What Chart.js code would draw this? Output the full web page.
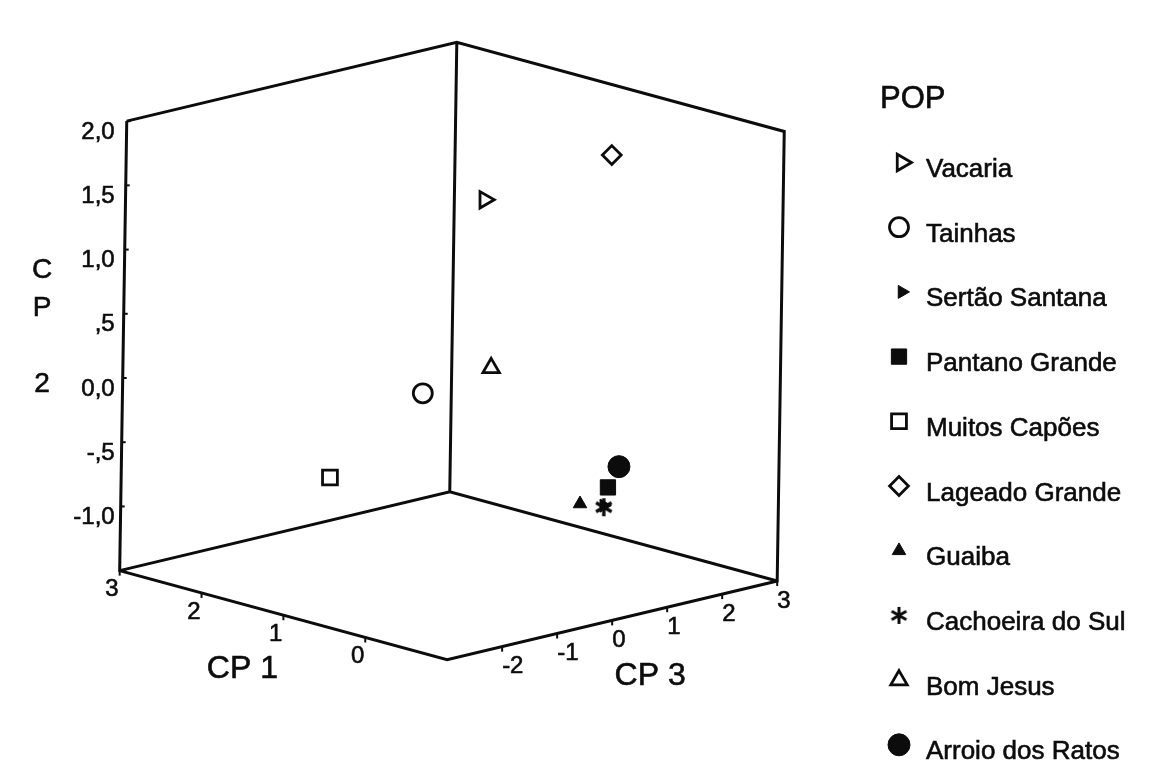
<!DOCTYPE html>
<html>
<head>
<meta charset="utf-8">
<script src="https://cdn.jsdelivr.net/npm/chart.js@4.4.1/dist/chart.umd.min.js"></script>
<style>
  html, body { margin: 0; padding: 0; background: #ffffff; }
  canvas { display: block; }
</style>
</head>
<body>
<canvas id="chart" width="1152" height="780"></canvas>
<script>
// Principal component scores of each population (CP 1, CP 2, CP 3)
const populations = ['Vacaria', 'Tainhas', 'Sertão Santana', 'Pantano Grande', 'Muitos Capões',
                     'Lageado Grande', 'Guaiba', 'Cachoeira do Sul', 'Bom Jesus', 'Arroio dos Ratos'];
const cp1Scores = [0.85, 1.90, -0.35, -0.55, 2.10, 0.40, -0.60, -0.45, 1.20, -0.30];
const cp2Scores = [1.42, -0.32, -0.80, -0.60, -0.87, 1.68, -0.66, -0.78, -0.02, -0.54];
const cp3Scores = [0.33, 0.83, 0.79, 0.56, -0.54, 1.96, -0.02, 0.64, 1.02, 1.13];

// Axis ranges of the box and their tick labels
const cp1Range = [-1, 3];
const cp2Range = [-1.5, 2];
const cp3Range = [-3, 3];
const cp1Ticks = [3, 2, 1, 0];
const cp1TickLabels = ['3', '2', '1', '0'];
const cp2Ticks = [2, 1.5, 1, 0.5, 0, -0.5, -1];
const cp2TickLabels = ['2,0', '1,5', '1,0', ',5', '0,0', '-,5', '-1,0'];
const cp3Ticks = [-2, -1, 0, 1, 2, 3];
const cp3TickLabels = ['-2', '-1', '0', '1', '2', '3'];

const legendTitle = 'POP';
const axisTitles = { cp1: 'CP 1', cp2: 'CP 2', cp3: 'CP 3' };

// Orthographic camera and the visible window of the projection plane
const VIEW = { azimuth: 45, elevation: 14.8, roll: 0.9 };
const WINDOW = { xMin: -1.944, xMax: 3.011, yMin: -1.845, yMax: 1.510 };

const INK = '#0c0c0c';
const FONT = '"Liberation Sans", Arial, Helvetica, sans-serif';

function norm(v, r) { return (v - (r[0] + r[1]) / 2) / ((r[1] - r[0]) / 2); }

// 3D score -> point on the projection plane
function project(a, b, c) {
  const nx = norm(a, cp1Range), ny = norm(b, cp2Range), nz = norm(c, cp3Range);
  const az = VIEW.azimuth * Math.PI / 180, el = VIEW.elevation * Math.PI / 180, ro = VIEW.roll * Math.PI / 180;
  const u = -Math.cos(az) * nx + Math.sin(az) * nz;
  const depth = Math.sin(az) * nx + Math.cos(az) * nz;
  const v = Math.cos(el) * ny + Math.sin(el) * depth;
  return { x: u * Math.cos(ro) + v * Math.sin(ro), y: v * Math.cos(ro) - u * Math.sin(ro) };
}

// six-armed asterisk marker
function asterisk(size, lw) {
  const cv = document.createElement('canvas');
  cv.width = size; cv.height = size;
  const g = cv.getContext('2d');
  g.strokeStyle = INK; g.lineWidth = lw;
  const r = size / 2 - 1, m = size / 2;
  for (let k = 0; k < 3; k++) {
    const ang = Math.PI / 2 + k * Math.PI / 3;
    g.beginPath();
    g.moveTo(m + r * Math.cos(ang), m + r * Math.sin(ang));
    g.lineTo(m - r * Math.cos(ang), m - r * Math.sin(ang));
    g.stroke();
  }
  return cv;
}

const markerStyles = {
  'Vacaria':          { style: 'triangle', rotation: 90, radius: 9.5,  filled: false, border: 2.8 },
  'Tainhas':          { style: 'circle',   rotation: 0,  radius: 9.5,  filled: false, border: 2.8 },
  'Sertão Santana':   { style: 'triangle', rotation: 90, radius: 7.5,  filled: true,  border: 1, order: 2 },
  'Pantano Grande':   { style: 'rect',     rotation: 0,  radius: 10.8, filled: true,  border: 1 },
  'Muitos Capões':    { style: 'rect',     rotation: 0,  radius: 10.5, filled: false, border: 2.8 },
  'Lageado Grande':   { style: 'rectRot',  rotation: 0,  radius: 9.4,  filled: false, border: 2.8 },
  'Guaiba':           { style: 'triangle', rotation: 0,  radius: 7.8,  filled: true,  border: 1 },
  'Cachoeira do Sul': { style: asterisk(20, 3.4), rotation: 0, radius: 9, filled: true, border: 1, order: 1 },
  'Bom Jesus':        { style: 'triangle', rotation: 0,  radius: 9.5,  filled: false, border: 2.8 },
  'Arroio dos Ratos': { style: 'circle',   rotation: 0,  radius: 11,   filled: true,  border: 1 }
};
const legendAsterisk = asterisk(19, 3);

// box corners and edges (three back walls with the floor)
const a0 = cp1Range[0], a1 = cp1Range[1], b0 = cp2Range[0], b1 = cp2Range[1], c0 = cp3Range[0], c1 = cp3Range[1];
const gap = { x: null, y: null };
const boxPath = [
  project(a1, b1, c0), project(a1, b0, c0), project(a0, b0, c0), project(a0, b0, c1),
  project(a0, b1, c1), project(a1, b1, c1), project(a1, b1, c0), gap,
  project(a1, b0, c0), project(a1, b0, c1), project(a0, b0, c1), gap,
  project(a1, b0, c1), project(a1, b1, c1)
];

const datasets = populations.map((name, i) => {
  const st = markerStyles[name];
  return {
    label: name,
    data: [project(cp1Scores[i], cp2Scores[i], cp3Scores[i])],
    pointStyle: st.style,
    pointRotation: st.rotation,
    pointRadius: st.radius,
    pointHoverRadius: st.radius,
    pointBorderWidth: st.border,
    pointBorderColor: INK,
    pointBackgroundColor: st.filled ? INK : '#ffffff',
    order: st.order || 0
  };
});
datasets.push({
  label: 'box',
  data: boxPath,
  showLine: true,
  spanGaps: false,
  borderColor: INK,
  borderWidth: 3,
  borderJoinStyle: 'miter',
  pointRadius: 0,
  pointHoverRadius: 0,
  order: 10
});

function drawPointShape(ctx, opts, x, y) {
  if (Chart.helpers && Chart.helpers.drawPoint) {
    Chart.helpers.drawPoint(ctx, opts, x, y);
  }
}

// filled text with a hairline outline for a slightly heavier print
function inkText(ctx, text, x, y) {
  ctx.fillText(text, x, y);
  ctx.strokeText(text, x, y);
}

// axis ticks, tick labels, axis titles and the legend
const boxDecor = {
  id: 'boxDecor',
  afterDatasetsDraw(chart) {
    const ctx = chart.ctx;
    const sx = chart.scales.x, sy = chart.scales.y;
    const px = (p) => ({ x: sx.getPixelForValue(p.x), y: sy.getPixelForValue(p.y) });
    ctx.save();
    ctx.strokeStyle = INK;
    ctx.fillStyle = INK;

    // CP 2 on the front-left vertical edge
    ctx.font = '24px ' + FONT;
    ctx.textAlign = 'right';
    ctx.textBaseline = 'middle';
    const labelX = px(project(a1, b0, c0)).x - 5;
    cp2Ticks.forEach((t, i) => {
      const p = px(project(a1, t, c0));
      ctx.lineWidth = 2;
      ctx.beginPath(); ctx.moveTo(p.x, p.y); ctx.lineTo(p.x + 4, p.y); ctx.stroke();
      ctx.lineWidth = 0.6;
      inkText(ctx, cp2TickLabels[i], labelX, p.y + 11);
    });

    // CP 1 along the front-left floor edge
    cp1Ticks.forEach((t, i) => {
      const p = px(project(t, b0, c0));
      ctx.lineWidth = 2;
      ctx.beginPath(); ctx.moveTo(p.x, p.y); ctx.lineTo(p.x, p.y + 5); ctx.stroke();
      ctx.textAlign = 'right';
      ctx.lineWidth = 0.6;
      inkText(ctx, cp1TickLabels[i], p.x - 1, p.y + 19);
    });

    // CP 3 along the front-right floor edge
    cp3Ticks.forEach((t, i) => {
      const p = px(project(a0, b0, t));
      ctx.lineWidth = 2;
      ctx.beginPath(); ctx.moveTo(p.x, p.y); ctx.lineTo(p.x, p.y + 5); ctx.stroke();
      ctx.textAlign = 'left';
      ctx.lineWidth = 0.6;
      inkText(ctx, cp3TickLabels[i], p.x, p.y + 20);
    });

    // axis titles
    ctx.lineWidth = 0.6;
    ctx.textBaseline = 'alphabetic';
    ctx.textAlign = 'center';
    ctx.font = '32px ' + FONT;
    const m1 = px(project((a0 + a1) / 2, b0, c0));
    inkText(ctx, axisTitles.cp1, m1.x - 41, m1.y + 63);
    const m3 = px(project(a0, b0, (c0 + c1) / 2));
    inkText(ctx, axisTitles.cp3, m3.x + 38, m3.y + 65);
    ctx.font = '28px ' + FONT;
    Array.from(axisTitles.cp2).forEach((ch, k) => {
      if (ch !== ' ') inkText(ctx, ch, 42, 278 + k * 38);
    });

    // legend
    ctx.textAlign = 'left';
    ctx.font = '31px ' + FONT;
    inkText(ctx, legendTitle, 880, 108);
    ctx.font = '26px ' + FONT;
    populations.forEach((name, i) => {
      const st = markerStyles[name];
      const base = 177 + i * 64.7;
      const my = base - 14.5;
      ctx.fillStyle = st.filled ? INK : '#ffffff';
      ctx.strokeStyle = INK;
      ctx.lineWidth = st.border;
      drawPointShape(ctx, {
        pointStyle: typeof st.style === 'string' ? st.style : legendAsterisk,
        rotation: st.rotation, radius: st.radius, borderWidth: st.border
      }, st.rotation === 90 ? 902 : 899, my);
      ctx.fillStyle = INK;
      ctx.lineWidth = 0.6;
      inkText(ctx, name, 926, base);
    });
    ctx.restore();
  }
};

new Chart(document.getElementById('chart'), {
  type: 'scatter',
  data: { datasets },
  options: {
    responsive: false,
    animation: false,
    events: [],
    layout: { padding: 0, autoPadding: false },
    scales: {
      x: { type: 'linear', display: false, min: WINDOW.xMin, max: WINDOW.xMax },
      y: { type: 'linear', display: false, min: WINDOW.yMin, max: WINDOW.yMax }
    },
    plugins: { legend: { display: false }, tooltip: { enabled: false }, title: { display: false } }
  },
  plugins: [boxDecor]
});
</script>
</body>
</html>
